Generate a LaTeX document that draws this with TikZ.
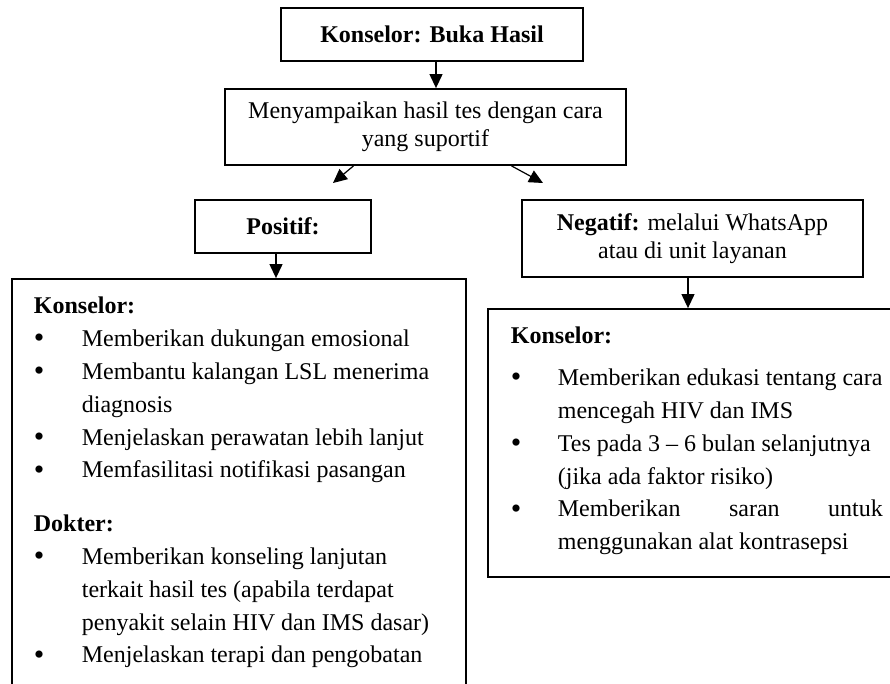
\documentclass[tikz,border=0pt]{standalone}
\usepackage{fontspec}
\setmainfont{Liberation Serif}
\usetikzlibrary{arrows.meta}
\newcommand{\bul}{\raisebox{-0.6pt}{\fontsize{15}{15}\selectfont\textbullet}}

\begin{document}
\begin{tikzpicture}[x=0.5pt,y=-0.5pt,line width=0.9pt,font=\fontsize{12}{14}\selectfont]
	\tikzstyle{box}=[draw,rectangle,inner sep=0pt,align=center]
	\tikzstyle{list}=[inner sep=0pt,anchor=north west,font=\fontsize{12}{16.4}\selectfont]
	\tikzstyle{arrow}=[-{Triangle[length=7pt,width=6.5pt]},line width=0.6pt]
	
	\clip (0,0) rectangle (890,684);
	
	% Draw the top boxes
	\node[box,minimum width=151pt,minimum height=26.5pt] (head) at (432,34.5) {\textbf{Konselor: Buka Hasil}};
	\node[box,minimum width=200.5pt,minimum height=38pt] (sup) at (425.5,127) {Menyampaikan hasil tes dengan cara\\yang suportif};
	
	% Draw the result boxes
	\node[box,minimum width=88pt,minimum height=26.5pt] (pos) at (283,226.5) {\textbf{Positif:}};
	\node[box,minimum width=170.5pt,minimum height=38.5pt] (neg) at (692.5,238.5) {\textbf{Negatif:} melalui WhatsApp\\atau di unit layanan};
	
	% Draw the action boxes (cut at the page edge)
	\node[box,minimum width=227pt,minimum height=210.5pt] (posbox) at (239,489.5) {};
	\node[box,minimum width=206pt,minimum height=134pt] (negbox) at (694,443) {};
	
	% Free ends of the split arrows
	\coordinate (pos-tip) at (333,183);
	\coordinate (neg-tip) at (543,183);
	
	% Connect boxes
	\draw[arrow] ([xshift=2pt]head.south) -- ([xshift=2pt]head.south |- sup.north);
	\draw[arrow] ([xshift=-36pt]sup.south) -- (pos-tip);
	\draw[arrow] ([xshift=43pt]sup.south) -- (neg-tip);
	\draw[arrow] ([xshift=-3.5pt]pos.south) -- ([xshift=-3.5pt]pos.south |- posbox.north);
	\draw[arrow] ([xshift=-2.25pt]neg.south) -- ([xshift=-2.25pt]neg.south |- negbox.north);
	
	% Fill the action boxes
	\node[list] (pos-text) at (33,290) {\begin{tabular}{@{}p{24pt}@{}l@{}}
		\multicolumn{2}{@{}l@{}}{\textbf{Konselor:}}\\
		\bul & Memberikan dukungan emosional\\
		\bul & Membantu kalangan LSL menerima\\
		     & diagnosis\\
		\bul & Menjelaskan perawatan lebih lanjut\\
		\bul & Memfasilitasi notifikasi pasangan\\[10.5pt]
		\multicolumn{2}{@{}l@{}}{\textbf{Dokter:}}\\
		\bul & Memberikan konseling lanjutan\\
		     & terkait hasil tes (apabila terdapat\\
		     & penyakit selain HIV dan IMS dasar)\\
		\bul & Menjelaskan terapi dan pengobatan
	\end{tabular}};
	\node[list] (neg-text) at (510,320) {\begin{tabular}{@{}p{23.5pt}@{}l@{}}
		\multicolumn{2}{@{}l@{}}{\textbf{Konselor:}}\\[4.5pt]
		\bul & Memberikan edukasi tentang cara\\
		     & mencegah HIV dan IMS\\
		\bul & Tes pada 3 -- 6 bulan selanjutnya\\
		     & (jika ada faktor risiko)\\
		\bul & \makebox[162.5pt][s]{Memberikan saran untuk}\\
		     & menggunakan alat kontrasepsi
	\end{tabular}};
	
\end{tikzpicture}
\end{document}
